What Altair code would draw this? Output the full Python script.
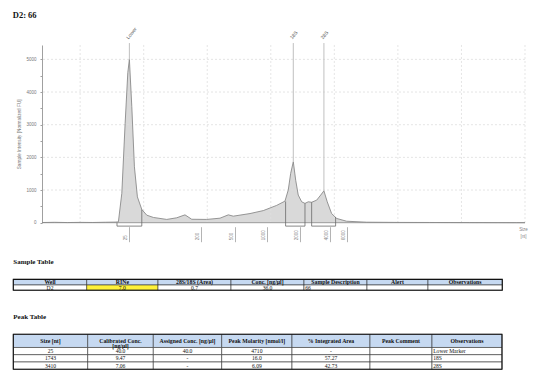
import altair as alt
import pandas as pd

# ---------------- values ----------------
TITLE = "D2: 66"

# electropherogram trace: migration position (arbitrary units) and intensity (FU)
TRACE_T = [14.0, 16.0, 18.0, 20.0, 22.0, 24.0, 25.5, 26.02, 26.56, 27.08,
           27.5, 27.75, 28.13, 28.54, 29.01, 29.70, 30.49, 31.53, 33.63, 35.2,
           36.5, 37.56, 39.92, 42.01, 43.32, 44.1, 46.73, 48.82, 50.93, 52.23,
           52.75, 53.13, 53.54, 53.92, 54.32, 54.86, 55.38, 55.90, 56.43, 57.22,
           57.85, 58.36, 58.88, 59.57, 60.36, 61.93, 65.08, 70.31, 75.0, 81.3,
           88.66, 90.0]
TRACE_FU = [5, 12, 4, 10, 6, 14, 18, 25, 900, 3040,
            4590, 5000, 3550, 1710, 790, 405, 230, 160, 100, 150,
            240, 105, 100, 138, 240, 200, 280, 370, 530, 660,
            1000, 1510, 1865, 1300, 845, 640, 590, 640, 625, 690,
            845, 975, 640, 280, 130, 45, 15, 8, 6, 3,
            0, 0]

PEAK_NAMES = ["Lower", "18S", "28S"]
PEAK_T = [27.75, 53.54, 58.36]
PEAK_FU = [5000, 1865, 975]
PEAK_START_T = [25.8, 52.33, 56.43]
PEAK_END_T = [29.7, 55.38, 60.2]
PEAK_START_FU = [0, 650, 625]
PEAK_END_FU = [405, 590, 175]

LADDER_T = [27.7, 38.98, 44.37, 49.4, 54.6, 59.3, 61.93]
LADDER_NT = ["25", "200", "500", "1000", "2000", "4000", "6000"]

GRID_T = [20, 30, 40, 50, 60, 70, 80, 90]
GRID_FU = [1000, 2000, 3000, 4000, 5000]
Y_TICKS = [0, 500, 1000, 1500, 2000, 2500, 3000, 3500, 4000, 4500, 5000]

SAMPLE_HEADERS = ["Well", "RINe", "28S/18S (Area)", "Conc. [ng/µl]",
                  "Sample Description", "Alert", "Observations"]
SAMPLE_VALUES = ["D2", "7.0", "0.7", "36.0", "66", "", ""]

PEAK_HEADERS = ["Size [nt]", "Calibrated Conc.\n[ng/µl]", "Assigned Conc. [ng/µl]",
                "Peak Molarity [nmol/l]", "% Integrated Area", "Peak Comment",
                "Observations"]
PEAK_SIZE = ["25", "1743", "3410"]
PEAK_CAL_CONC = ["40.0", "9.47", "7.06"]
PEAK_ASSIGNED = ["40.0", "-", "-"]
PEAK_MOLARITY = ["4710", "16.0", "6.09"]
PEAK_AREA = ["-", "57.27", "42.73"]
PEAK_COMMENT = ["", "", ""]
PEAK_OBS = ["Lower Marker", "18S", "28S"]

# ---------------- layout (page pixels) ----------------
SERIF = "Liberation Serif"
SANS = "Liberation Sans"
PLOT_LEFT, PLOT_TOP = 42, 45
PLOT_W, PLOT_H = 483, 177.7
X_DOMAIN = [14, 90]
Y_DOMAIN = [0, 5440]
BOX_DROP_FU = -105
LINE_TOP_FU = 5500

SAMPLE_COL_W = [73.4, 71.3, 73, 73, 63, 61, 74.3]
SAMPLE_ROW_H = [5.6, 5.2]
SAMPLE_LEFT, SAMPLE_TOP = 13.3, 279.4
PEAK_COL_W = [74.4, 65.6, 68.4, 70.3, 78, 62, 70]
PEAK_ROW_H = [13.2, 7.2, 7.3, 7.3]
PEAK_LEFT, PEAK_TOP = 13.3, 334.3
CAPTION_GAP = 17

GRID_COLOR = "#dedede"

# ---------------- electropherogram ----------------
XS = alt.Scale(domain=X_DOMAIN, nice=False, zero=False)
YS = alt.Scale(domain=Y_DOMAIN, nice=False)

x_label_expr = " : ".join(
    f"abs(datum.value - {t}) < 0.001 ? '{n}'" for t, n in zip(LADDER_T, LADDER_NT)
) + " : ''"

X_AXIS = alt.Axis(values=LADDER_T, labelExpr=x_label_expr, grid=False, domain=False,
                  offset=4, tickSize=15, tickColor="#b4b4b4", tickWidth=1,
                  labelAngle=270, labelAlign="left", labelBaseline="middle",
                  labelPadding=-2, labelOffset=-3.5, labelFontSize=4.5,
                  labelColor="#888888", labelFont=SANS, labelOverlap=False,
                  labelFlush=False, title=["Size", "[nt]"], titleFont=SANS,
                  titleFontSize=4.5, titleColor="#888888", titleFontWeight="normal",
                  titleX=481, titleY=0, titleAlign="center", titleBaseline="top",
                  titleLineHeight=6.5)

Y_AXIS = alt.Axis(values=Y_TICKS, format="d",
                  labelExpr="datum.value % 1000 === 0 ? datum.label : ''",
                  grid=False, tickSize=2, tickColor="#a0a0a0", domainColor="#a0a0a0",
                  labelFontSize=4.5, labelColor="#777777", labelFont=SANS,
                  labelPadding=4, title="Sample Intensity [Normalized FU]",
                  titleFont=SANS, titleFontSize=4.7, titleFontWeight="normal",
                  titleColor="#777777", titlePadding=4)


def X(field):
    return alt.X(field, type="quantitative", scale=XS, axis=X_AXIS)


def Y(field):
    return alt.Y(field, type="quantitative", scale=YS, axis=Y_AXIS)


trace_df = pd.DataFrame({"t": TRACE_T, "fu": TRACE_FU})
grid_t_df = pd.DataFrame({"t": GRID_T})
grid_fu_df = pd.DataFrame({"fu": GRID_FU})
base_df = pd.DataFrame({"fu": [0]})
peaks_df = pd.DataFrame({"peak": PEAK_NAMES, "t": PEAK_T, "fu": PEAK_FU,
                         "top": [LINE_TOP_FU] * len(PEAK_NAMES)})

box_rows = []
for name, t0, t1, f0, f1 in zip(PEAK_NAMES, PEAK_START_T, PEAK_END_T,
                                PEAK_START_FU, PEAK_END_FU):
    box_rows += [
        {"peak": name, "k": 0, "t": t0, "fu": f0},
        {"peak": name, "k": 1, "t": t0, "fu": BOX_DROP_FU},
        {"peak": name, "k": 2, "t": t1, "fu": BOX_DROP_FU},
        {"peak": name, "k": 3, "t": t1, "fu": f1},
    ]
box_df = pd.DataFrame(box_rows)

grid_v = alt.Chart(grid_t_df).mark_rule(color=GRID_COLOR, strokeDash=[2, 2],
                                        strokeWidth=0.8).encode(x=X("t"))
grid_h = alt.Chart(grid_fu_df).mark_rule(color=GRID_COLOR, strokeDash=[2, 2],
                                         strokeWidth=0.8).encode(y=Y("fu"))
area = alt.Chart(trace_df).mark_area(color="#d9d9d9", opacity=1).encode(
    x=X("t"), y=Y("fu"))
baseline = alt.Chart(base_df).mark_rule(color="#9a9a9a", strokeWidth=1).encode(
    y=Y("fu"))
trace = alt.Chart(trace_df).mark_line(color="#8a8a8a", strokeWidth=0.9).encode(
    x=X("t"), y=Y("fu"))
boxes = alt.Chart(box_df).mark_line(color="#6a6a6a", strokeWidth=0.8).encode(
    x=X("t"), y=Y("fu"), detail="peak:N", order="k:Q")
peak_lines = alt.Chart(peaks_df).mark_rule(color="#c0c0c0", strokeWidth=1).encode(
    x=X("t"), y=Y("fu"), y2="top:Q")
peak_labels = alt.Chart(peaks_df).mark_text(
    angle=310, align="left", baseline="middle", dx=2, dy=-5, fontSize=5,
    font=SANS, color="#555555").encode(x=X("t"), y=Y("top"), text="peak:N")

electro = alt.layer(area, grid_v, grid_h, baseline, trace, boxes, peak_lines,
                    peak_labels)


# ---------------- tables ----------------
def make_table(headers, body_rows, col_w, row_h, left, top, caption,
               highlight=None, left_cols=()):
    xe = [0]
    for w in col_w:
        xe.append(xe[-1] + w)
    ye = [0]
    for h in row_h:
        ye.append(ye[-1] + h)
    recs = []
    for r, row in enumerate([headers] + body_rows):
        for c, txt in enumerate(row):
            if r == 0:
                fill = "#c6d9f1"
            elif highlight == (r, c):
                fill = "#fff23a"
            else:
                fill = "#ffffff"
            recs.append({
                "x0": xe[c], "x1": xe[c + 1], "y0": ye[r], "y1": ye[r + 1],
                "xc": (xe[c] + xe[c + 1]) / 2, "xl": xe[c] + 1.2,
                "yc": (ye[r] + ye[r + 1]) / 2, "label": txt,
                "part": "header" if r == 0 else "body",
                "al": "left" if (r > 0 and c in left_cols) else "center",
                "fill": fill,
            })
    df = pd.DataFrame(recs)
    xs = alt.Scale(domain=[0, xe[-1]], range=[left - PLOT_LEFT, left - PLOT_LEFT + xe[-1]],
                   nice=False, zero=False)
    ys = alt.Scale(domain=[0, ye[-1]], range=[top - PLOT_TOP, top - PLOT_TOP + ye[-1]],
                   nice=False, zero=False)

    def TX(f):
        return alt.X(f, type="quantitative", scale=xs, axis=None)

    def TY(f):
        return alt.Y(f, type="quantitative", scale=ys, axis=None)

    base = alt.Chart(df)
    cells = base.mark_rect(stroke="#333333", strokeWidth=0.6).encode(
        x=TX("x0"), x2="x1:Q", y=TY("y0"), y2="y1:Q",
        fill=alt.Fill("fill:N", scale=None))
    outer = alt.Chart(pd.DataFrame({"x0": [0], "x1": [xe[-1]], "y0": [0],
                                    "y1": [ye[-1]]})).mark_rect(
        fillOpacity=0, stroke="#111111", strokeWidth=1.1).encode(
        x=TX("x0"), x2="x1:Q", y=TY("y0"), y2="y1:Q")
    head = base.transform_filter("datum.part == 'header'").mark_text(
        font=SERIF, fontSize=5.8, fontWeight="bold", lineBreak="\n",
        lineHeight=5.6, baseline="middle", color="#111111").encode(
        x=TX("xc"), y=TY("yc"), text="label:N")
    body_c = base.transform_filter(
        "datum.part == 'body' && datum.al == 'center'").mark_text(
        font=SERIF, fontSize=5.6, baseline="middle", color="#111111").encode(
        x=TX("xc"), y=TY("yc"), text="label:N")
    body_l = base.transform_filter(
        "datum.part == 'body' && datum.al == 'left'").mark_text(
        font=SERIF, fontSize=5.6, baseline="middle", align="left",
        color="#111111").encode(x=TX("xl"), y=TY("yc"), text="label:N")
    cap = alt.Chart(pd.DataFrame({"label": [caption], "x": [0],
                                  "y": [-CAPTION_GAP]})).mark_text(
        font=SERIF, fontSize=7, fontWeight="bold", align="left",
        baseline="middle", color="#111111").encode(
        x=TX("x"), y=TY("y"), text="label:N")
    return alt.layer(cells, outer, head, body_c, body_l, cap)


sample_table = make_table(SAMPLE_HEADERS, [SAMPLE_VALUES], SAMPLE_COL_W, SAMPLE_ROW_H,
                          SAMPLE_LEFT, SAMPLE_TOP, "Sample Table",
                          highlight=(1, 1), left_cols=(4,))

peak_rows = [list(r) for r in zip(PEAK_SIZE, PEAK_CAL_CONC, PEAK_ASSIGNED,
                                  PEAK_MOLARITY, PEAK_AREA, PEAK_COMMENT, PEAK_OBS)]
peak_table = make_table(PEAK_HEADERS, peak_rows, PEAK_COL_W, PEAK_ROW_H,
                        PEAK_LEFT, PEAK_TOP, "Peak Table", left_cols=(6,))

chart = alt.layer(electro, sample_table, peak_table).resolve_scale(
    x="independent", y="independent"
).properties(
    width=PLOT_W, height=PLOT_H,
    title=alt.TitleParams(TITLE, anchor="start", frame="bounds", font=SERIF,
                          fontSize=8.5, fontWeight="bold", color="#111111",
                          offset=7),
    autosize=alt.AutoSizeParams(type="none"),
    padding={"left": PLOT_LEFT - 8, "top": PLOT_TOP - 8, "right": 20, "bottom": 150},
).configure_view(stroke=None)

chart.save("out.html", embed_options={"renderer": "svg", "actions": False})
